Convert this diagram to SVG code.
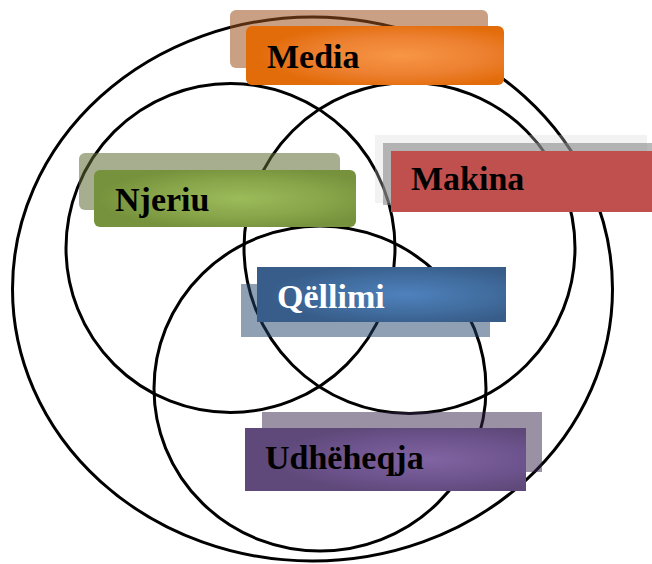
<svg xmlns="http://www.w3.org/2000/svg" width="652" height="564" viewBox="0 0 652 564">
  <style>
    .ring { fill: none; stroke: #000; stroke-width: 3; }
    .lbl { font-family: "Liberation Serif", "Times New Roman", serif; font-weight: bold; font-size: 34px; }
  </style>
  <defs>
    <radialGradient id="gOrange" cx="0.6" cy="0.5" r="0.55">
      <stop offset="0" stop-color="#f79646"/>
      <stop offset="0.6" stop-color="#ec8030"/>
      <stop offset="1" stop-color="#e36c0a"/>
    </radialGradient>
    <radialGradient id="gGreen" cx="0.56" cy="0.5" r="0.55">
      <stop offset="0" stop-color="#9bbb59"/>
      <stop offset="0.6" stop-color="#88a54a"/>
      <stop offset="1" stop-color="#76923c"/>
    </radialGradient>
    <radialGradient id="gBlue" cx="0.6" cy="0.5" r="0.55">
      <stop offset="0" stop-color="#4f81bd"/>
      <stop offset="0.6" stop-color="#416d9f"/>
      <stop offset="1" stop-color="#385d8a"/>
    </radialGradient>
    <radialGradient id="gPurple" cx="0.65" cy="0.5" r="0.55">
      <stop offset="0" stop-color="#8064a2"/>
      <stop offset="0.6" stop-color="#6e548e"/>
      <stop offset="1" stop-color="#5f497a"/>
    </radialGradient>
  </defs>

  <g id="connectors">
    <ellipse class="ring" cx="312.5" cy="289" rx="300" ry="272"/>
    <circle class="ring" cx="230.5" cy="248" r="164.5"/>
    <circle class="ring" cx="409.5" cy="248" r="165.5"/>
    <ellipse class="ring" cx="320" cy="388.5" rx="166" ry="162.5"/>
  </g>

  <g id="media">
    <rect x="230" y="10" width="258" height="58" rx="6" fill="#9c521d" fill-opacity="0.55"/>
    <rect x="246" y="26" width="258" height="59" rx="6" fill="url(#gOrange)"/>
    <text class="lbl" x="267" y="68" fill="#000">Media</text>
  </g>

  <g id="njeriu">
    <rect x="79" y="153" width="261" height="57" rx="6" fill="#5d6b33" fill-opacity="0.55"/>
    <rect x="94" y="170" width="262" height="57" rx="6" fill="url(#gGreen)"/>
    <text class="lbl" x="115" y="211" fill="#000">Njeriu</text>
  </g>

  <g id="makina">
    <rect x="375" y="135" width="272" height="68" fill="#d4d4d4" fill-opacity="0.3"/>
    <rect x="383" y="143" width="269" height="62" fill="#7f7f7f" fill-opacity="0.55"/>
    <rect x="391" y="151" width="261" height="61" fill="#c0504d"/>
    <text class="lbl" x="411" y="190" fill="#000">Makina</text>
  </g>

  <g id="qellimi">
    <rect x="241" y="284" width="249" height="53" fill="#1f4169" fill-opacity="0.5"/>
    <rect x="257" y="267" width="249" height="55" fill="url(#gBlue)"/>
    <text class="lbl" x="277" y="308" fill="#fff">Qëllimi</text>
  </g>

  <g id="udheheqja">
    <rect x="262" y="412" width="280" height="60" fill="#37234b" fill-opacity="0.5"/>
    <rect x="245" y="428" width="281" height="63" fill="url(#gPurple)"/>
    <text class="lbl" x="265" y="469" fill="#000">Udhëheqja</text>
  </g>
</svg>
